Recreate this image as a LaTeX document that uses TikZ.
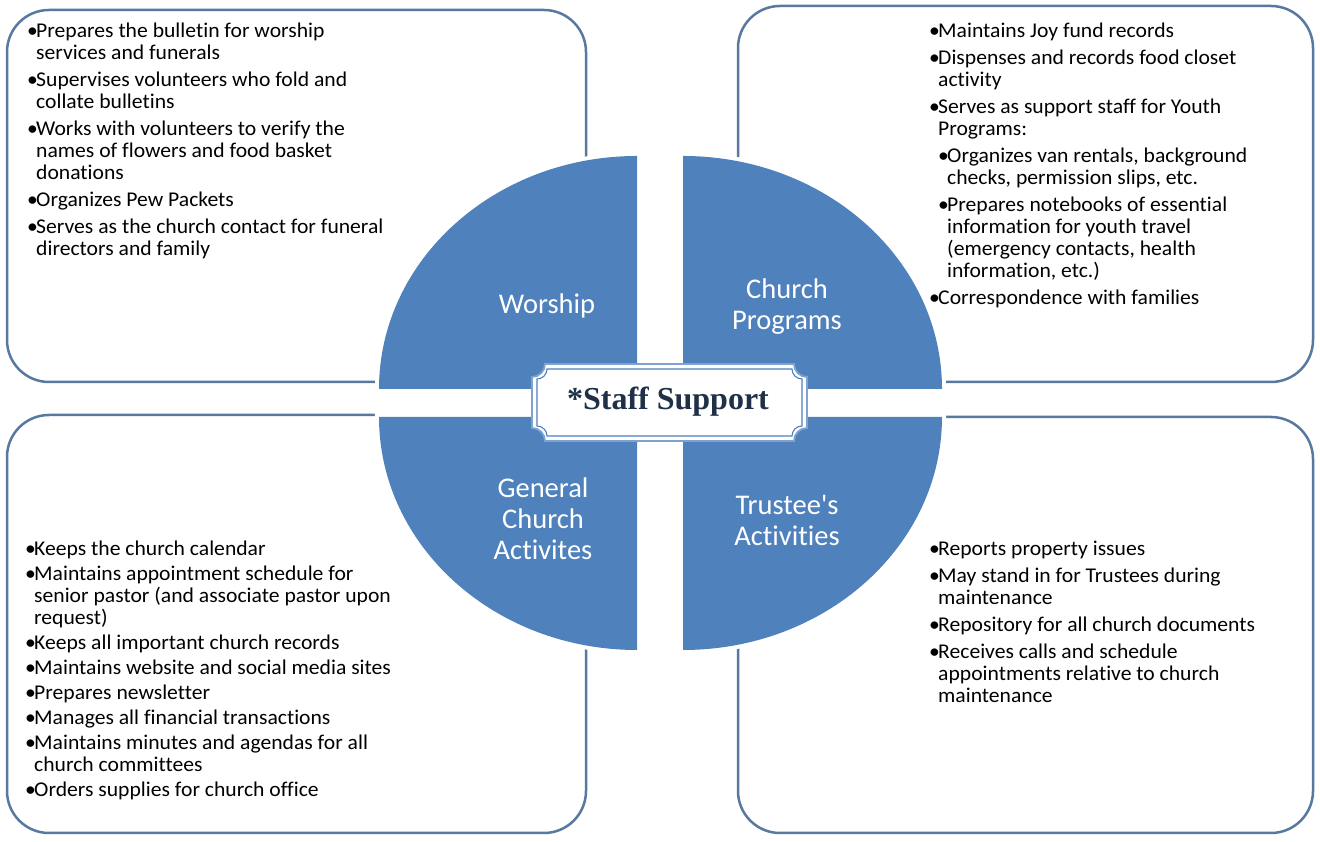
\documentclass[tikz,border=0pt]{standalone}
\usepackage{fontspec}
\newfontfamily\bodyfont{Carlito}[FakeStretch=1.03, Ligatures=NoCommon]
\newfontfamily\labelfont{Carlito}[Ligatures=NoCommon]
\newfontfamily\titlefont{Liberation Serif}
\definecolor{quad}{HTML}{4F81BD}
\definecolor{boxline}{HTML}{58799F}
\definecolor{titlecol}{HTML}{1F3047}
\definecolor{plaqueout}{HTML}{7FA3CE}
\definecolor{plaquein}{HTML}{4F81BD}
\newcommand\bul{\makebox[9pt][l]{\textbullet}}
\newcommand\ind{\hspace*{9pt}}
\newcommand\li[1]{\hbox{\bul#1}}
\newcommand\lc[1]{\hbox{\ind#1}}
\newcommand\lsi[1]{\hbox{\ind\bul#1}}
\newcommand\lsc[1]{\hbox{\ind\ind#1}}
\tikzset{
  panel/.style={draw=boxline, line width=2.5pt, fill=white, rounded corners=42pt},
  quadrant/.style={fill=quad, preaction={draw=white, line width=8pt}},
  quadlabel/.style={text=white, font=\labelfont\fontsize{28.5}{31}\selectfont, align=center, inner sep=0pt},
  bodytext/.style={anchor=base west, inner sep=0pt, font=\bodyfont\fontsize{21}{22}\selectfont, text=black},
  titletext/.style={anchor=base, inner sep=0pt, font=\titlefont\bfseries\fontsize{32}{36}\selectfont, text=titlecol}
}
\begin{document}
\begin{tikzpicture}[x=1pt,y=1pt]
\useasboundingbox (0,0) rectangle (1320,842);
\fill[white] (0,0) rectangle (1320,842);

% corner panels
\draw[panel] (7,460) rectangle (586,832);
\draw[panel] (738,460) rectangle (1313,836);
\draw[panel] (7,9) rectangle (586,427);
\draw[panel] (738,9) rectangle (1313,425);

% quadrants
\path[quadrant] (637,453) -- (379,453) arc[start angle=180, end angle=90, x radius=258, y radius=233] -- cycle;
\path[quadrant] (683,453) -- (683,686) arc[start angle=90, end angle=0, x radius=259, y radius=233] -- cycle;
\path[quadrant] (637,425) -- (379,425) arc[start angle=180, end angle=270, x radius=258, y radius=233] -- cycle;
\path[quadrant] (683,425) -- (942,425) arc[start angle=0, end angle=-90, x radius=259, y radius=233] -- cycle;

\node[quadlabel] (worship) at (547,536) {Worship};
\node[quadlabel] (programs) at (787,535) {Church\\Programs};
\node[quadlabel] (general) at (543,323) {General\\Church\\Activites};
\node[quadlabel] (trustee) at (787,322) {Trustee's\\Activities};

% centre plaque
\draw[draw=plaqueout, line width=1.8pt, fill=white]
  (545,478) -- (794,478) arc[start angle=180, end angle=270, radius=13]
  -- (807,414) arc[start angle=90, end angle=180, radius=13]
  -- (545,401) arc[start angle=0, end angle=90, radius=13]
  -- (532,465) arc[start angle=270, end angle=360, radius=13] -- cycle;
\draw[draw=plaquein, line width=1.1pt]
  (547,473) -- (792,473) arc[start angle=180, end angle=270, radius=10]
  -- (802,416) arc[start angle=90, end angle=180, radius=10]
  -- (547,406) arc[start angle=0, end angle=90, radius=10]
  -- (537,463) arc[start angle=270, end angle=360, radius=10] -- cycle;
\node[titletext] (staff) at (668,432) {*Staff Support};

% texts
\node[bodytext] (worshiptext) at (27,804) {\vtop{
  \li{Prepares the bulletin for worship}
  \lc{services and funerals}\vskip5pt
  \li{Supervises volunteers who fold and}
  \lc{collate bulletins}\vskip5pt
  \li{Works with volunteers to verify the}
  \lc{names of flowers and food basket}
  \lc{donations}\vskip5pt
  \li{Organizes Pew Packets}\vskip5pt
  \li{Serves as the church contact for funeral}
  \lc{directors and family}}};

\node[bodytext] (programstext) at (929,804) {\vtop{
  \li{Maintains Joy fund records}\vskip5pt
  \li{Dispenses and records food closet}
  \lc{activity}\vskip5pt
  \li{Serves as support staff for Youth}
  \lc{Programs:}\vskip5pt
  \lsi{Organizes van rentals, background}
  \lsc{checks, permission slips, etc.}\vskip5pt
  \lsi{Prepares notebooks of essential}
  \lsc{information for youth travel}
  \lsc{(emergency contacts, health}
  \lsc{information, etc.)}\vskip5pt
  \li{Correspondence with families}}};

\node[bodytext] (generaltext) at (25,286) {\vtop{
  \li{Keeps the church calendar}\vskip3pt
  \li{Maintains appointment schedule for}
  \lc{senior pastor (and associate pastor upon}
  \lc{request)}\vskip3pt
  \li{Keeps all important church records}\vskip3pt
  \li{Maintains website and social media sites}\vskip3pt
  \li{Prepares newsletter}\vskip3pt
  \li{Manages all financial transactions}\vskip3pt
  \li{Maintains minutes and agendas for all}
  \lc{church committees}\vskip3pt
  \li{Orders supplies for church office}}};

\node[bodytext] (trusteetext) at (929,286) {\vtop{
  \li{Reports property issues}\vskip5pt
  \li{May stand in for Trustees during}
  \lc{maintenance}\vskip5pt
  \li{Repository for all church documents}\vskip5pt
  \li{Receives calls and schedule}
  \lc{appointments relative to church}
  \lc{maintenance}}};
\end{tikzpicture}
\end{document}
